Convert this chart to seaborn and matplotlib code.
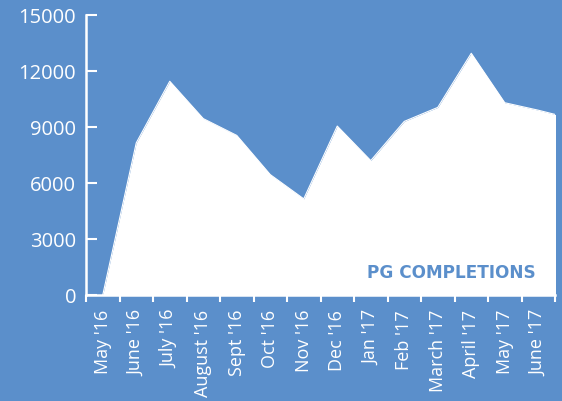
import numpy as np
import pandas as pd
import matplotlib
matplotlib.use("Agg")
import matplotlib.pyplot as plt
import seaborn as sns
from matplotlib.ticker import FixedLocator

months = ["May '16", "June '16", "July '16", "August '16", "Sept '16", "Oct '16",
          "Nov '16", "Dec '16", "Jan '17", "Feb '17", "March '17", "April '17",
          "May '17", "June '17"]
completions = [0, 8150, 11450, 9450, 8550, 6450, 5150, 9050, 7200, 9300,
               10050, 12950, 10300, 9900]
# the series continues past the last labelled month and is cut off at the axis edge
next_month_value = [9450]
y_ticks = [0, 3000, 6000, 9000, 12000, 15000]
title = "PG COMPLETIONS"

BLUE = "#5B8FCB"
sns.set_theme(style="white")
plt.rcParams["font.family"] = ["Open Sans", "DejaVu Sans"]

df = pd.DataFrame({"pos": np.arange(len(months) + 1),
                   "value": completions + next_month_value})

fig = plt.figure(figsize=(5.62, 4.02), dpi=100, facecolor=BLUE)
ax = fig.add_axes([86 / 562, 1 - 296 / 402, (555 - 86) / 562, 280 / 402])
ax.set_facecolor(BLUE)

sns.lineplot(data=df, x="pos", y="value", ax=ax, color="white", lw=0.8)
ax.fill_between(df["pos"], df["value"], color="white", lw=0)

ax.set_xlim(-0.5, len(months) - 0.5)
ax.set_ylim(0, 15000)
ax.set_xlabel("")
ax.set_ylabel("")

for s in ["top", "right"]:
    ax.spines[s].set_visible(False)
for s in ["left", "bottom"]:
    ax.spines[s].set_color("white")
    ax.spines[s].set_linewidth(1.8)

ax.set_yticks(y_ticks)
ax.set_yticklabels([str(v) for v in y_ticks])
ax.tick_params(axis="y", direction="in", length=8, width=1.5, color="white",
               labelcolor="white", labelsize=14.5, pad=7, left=True)

ax.set_xticks(np.arange(len(months)))
ax.set_xticklabels(months, rotation=90, ha="center", va="top")
ax.xaxis.set_minor_locator(FixedLocator(np.arange(len(months) + 1) - 0.5))
ax.tick_params(axis="x", which="major", length=0, labelcolor="white",
               labelsize=13, pad=10)
ax.tick_params(axis="x", which="minor", direction="out", length=5, width=1.5,
               color="white", bottom=True)

ax.text(0.9595, 0.063, title, transform=ax.transAxes, ha="right", va="baseline",
        color=BLUE, fontweight="bold", family=["DejaVu Sans"], fontsize=12.2)

fig.savefig("out.png", dpi=100, facecolor=BLUE)
